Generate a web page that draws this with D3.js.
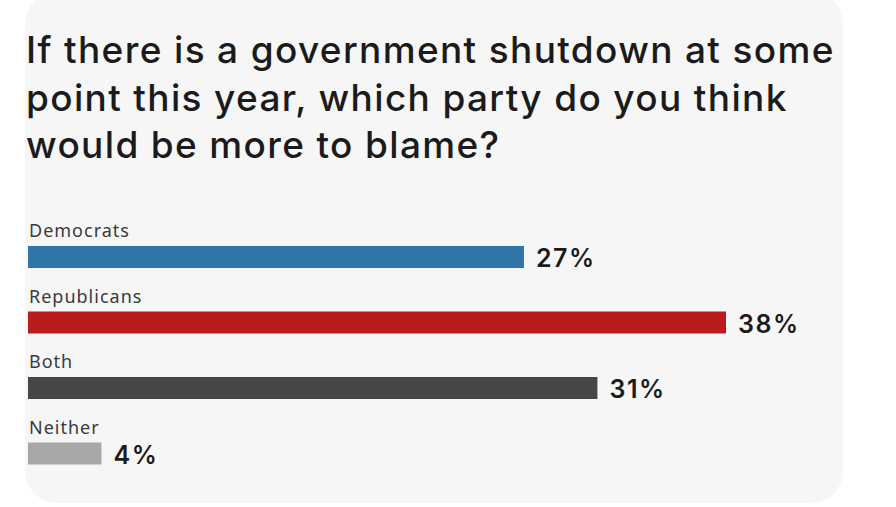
<!DOCTYPE html>
<html>
<head>
<meta charset="utf-8">
<script src="https://cdn.jsdelivr.net/npm/d3@7"></script>
<style>
  body { margin: 0; background: #ffffff; }
  svg { display: block; }
</style>
</head>
<body>
<svg id="chart" width="896" height="507"></svg>
<script>
// Données du sondage
const titleLines = [
  'If there is a government shutdown at some',
  'point this year, which party do you think',
  'would be more to blame?'
]
const categories = ['Democrats', 'Republicans', 'Both', 'Neither']
const values = [27, 38, 31, 4]
const barColors = ['#2f75aa', '#b81c1c', '#474747', '#a8a8a8']

// Mise en page
const width = 896
const height = 507
const cardX = 25, cardY = -8, cardW = 818, cardH = 511, cardR = 32
const barLeft = 28
const barRight = 726
const rowTop = 223 // haut de la premiere rangee
const rowStep = 65.5
const barOffset = 23 // decalage du haut de la barre dans la rangee
const barHeight = 22

const svg = d3.select('#chart')

// Carte de fond
svg.append('rect')
  .attr('x', cardX).attr('y', cardY)
  .attr('width', cardW).attr('height', cardH)
  .attr('rx', cardR).attr('ry', cardR)
  .attr('fill', '#f6f6f6')

// Titre
svg.append('g')
  .attr('class', 'titre')
  .selectAll('text')
  .data(titleLines)
  .enter()
  .append('text')
  .attr('x', 26)
  .attr('y', (d, i) => 63 + i * 47.5)
  .attr('font-family', 'Inter, "Noto Sans", sans-serif')
  .attr('font-size', 37)
  .attr('font-weight', 500)
  .attr('letter-spacing', 1.35)
  .attr('fill', '#1b1b1b')
  .text(d => d)

// Echelles
const x = d3.scaleLinear()
  .domain([0, d3.max(values)])
  .range([barLeft, barRight])

const y = d3.scaleBand()
  .domain(categories)
  .range([rowTop, rowTop + rowStep * categories.length])

const rows = svg.append('g')
  .attr('class', 'rows')
  .selectAll('g')
  .data(categories)
  .enter()
  .append('g')
  .attr('transform', d => 'translate(0,' + y(d) + ')')

// Libelles des categories
rows.append('text')
  .attr('x', 29)
  .attr('y', 14)
  .attr('font-family', '"Noto Sans", sans-serif')
  .attr('font-size', 18)
  .attr('letter-spacing', 1)
  .attr('fill', '#3a3a3a')
  .text(d => d)

// Barres
rows.append('rect')
  .attr('x', x(0))
  .attr('y', barOffset)
  .attr('width', (d, i) => x(values[i]) - x(0))
  .attr('height', barHeight)
  .attr('fill', (d, i) => barColors[i])

// Valeurs
rows.append('text')
  .attr('x', (d, i) => x(values[i]) + 12)
  .attr('y', barOffset + 21)
  .attr('font-family', 'Inter, "Noto Sans", sans-serif')
  .attr('font-size', 25)
  .attr('font-weight', 600)
  .attr('letter-spacing', 1.6)
  .attr('fill', '#1b1b1b')
  .text((d, i) => values[i] + '%')
</script>
</body>
</html>
